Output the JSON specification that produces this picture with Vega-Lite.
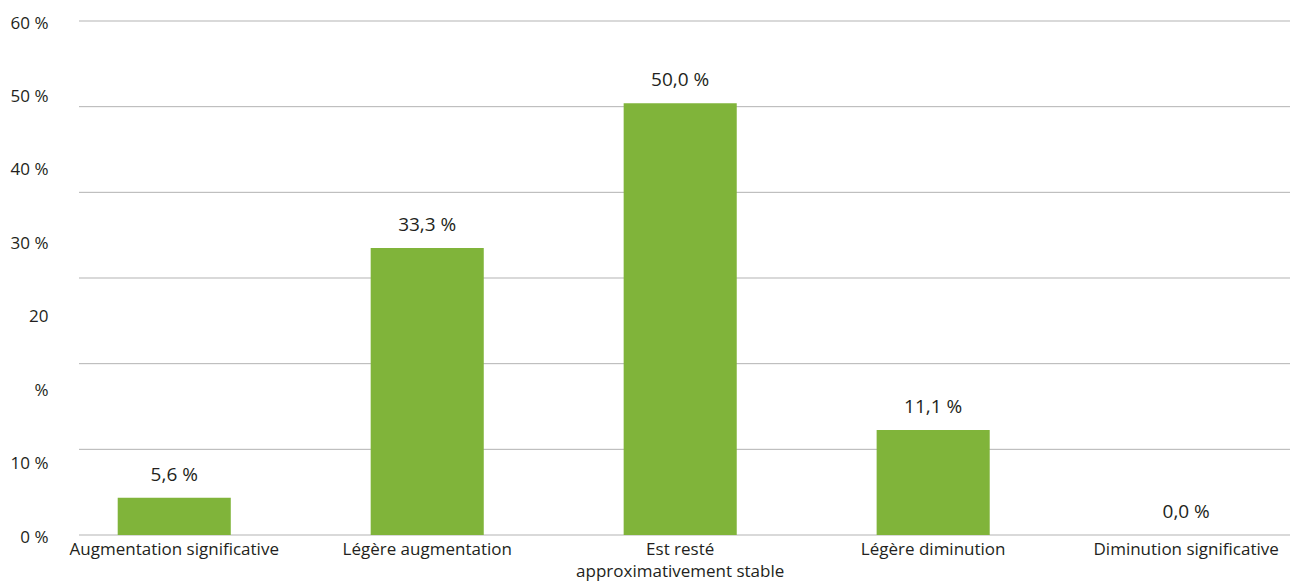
{
  "$schema": "https://vega.github.io/schema/vega-lite/v6.json",
  "width": 1211,
  "height": 514,
  "autosize": "none",
  "padding": {"left": 79, "top": 21, "right": 0, "bottom": 47},
  "background": "white",
  "config": {
    "view": {"stroke": null},
    "font": "Open Sans"
  },
  "layer": [
    {
      "data": {"values": [{"g": 0}, {"g": 10}, {"g": 20}, {"g": 30}, {"g": 40}, {"g": 50}, {"g": 60}]},
      "mark": {"type": "rule", "color": "#b3b3b3", "strokeWidth": 1},
      "encoding": {
        "y": {
          "field": "g", "type": "quantitative", "scale": {"domain": [0, 60]},
          "axis": {
            "title": null, "grid": false, "domain": false, "ticks": false,
            "values": [0, 8.5714, 17.1429, 25.7143, 34.2857, 42.8571, 51.4286, 60],
            "labelExpr": "['0 %','10 %','%','20','30 %','40 %','50 %','60 %'][round(datum.value*7/60)]",
            "labelPadding": 31, "labelFontSize": 17, "labelColor": "#231f20",
            "labelOffset": 2, "labelFont": "Open Sans"
          }
        }
      }
    },
    {
      "data": {"values": [
        {"cat": "Augmentation significative", "value": 4.35, "label": "5,6 %"},
        {"cat": "Légère augmentation", "value": 33.5, "label": "33,3 %"},
        {"cat": "Est resté approximativement stable", "value": 50.4, "label": "50,0 %"},
        {"cat": "Légère diminution", "value": 12.26, "label": "11,1 %"},
        {"cat": "Diminution significative", "value": 0, "label": "0,0 %"}
      ]},
      "encoding": {
        "x": {
          "field": "cat", "type": "nominal", "sort": null,
          "scale": {"paddingInner": 0.553, "paddingOuter": 0.17, "align": 0.45},
          "axis": {
            "title": null, "domain": false, "ticks": false, "labelAngle": 0,
            "labelPadding": 6, "labelFontSize": 17, "labelColor": "#231f20",
            "labelFont": "Open Sans", "labelLineHeight": 22, "labelBaseline": "top",
            "labelLimit": 0,
            "labelExpr": "datum.value == 'Est resté approximativement stable' ? ['Est resté', 'approximativement stable'] : datum.value"
          }
        },
        "y": {
          "field": "value", "type": "quantitative",
          "scale": {"domain": [0, 60]}
        }
      },
      "layer": [
        {"mark": {"type": "bar", "color": "#80b43a"}},
        {
          "mark": {"type": "text", "dy": -23, "baseline": "middle", "fontSize": 19, "color": "#231f20", "font": "Open Sans"},
          "encoding": {"text": {"field": "label"}}
        }
      ]
    }
  ]
}
